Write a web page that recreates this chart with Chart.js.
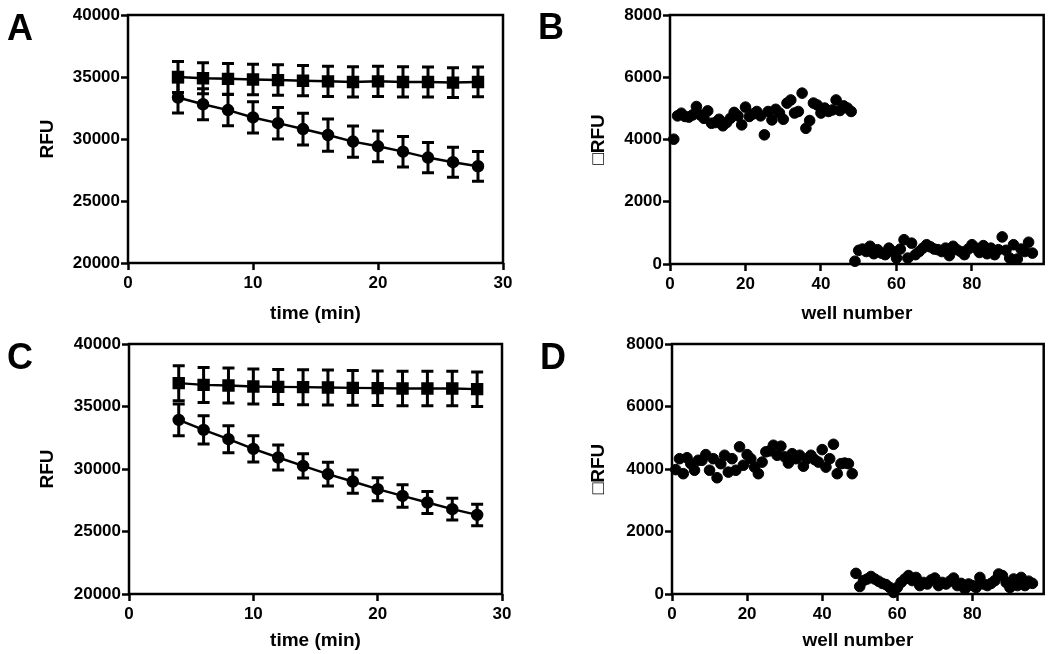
<!DOCTYPE html>
<html>
<head>
<meta charset="utf-8">
<script src="https://cdn.jsdelivr.net/npm/chart.js@4.4.1/dist/chart.umd.min.js"></script>
<style>
  body { margin: 0; background: #fff; }
  #wrap { position: relative; width: 1050px; height: 654px; }
  canvas { position: absolute; }
</style>
</head>
<body>
<div id="wrap">
  <canvas id="chartA" width="525" height="327" style="left:0;top:0"></canvas>
  <canvas id="chartB" width="525" height="327" style="left:525px;top:0"></canvas>
  <canvas id="chartC" width="525" height="327" style="left:0;top:327px"></canvas>
  <canvas id="chartD" width="525" height="327" style="left:525px;top:327px"></canvas>
</div>
<script>
// ---- data ----
var timeMin = [4, 6, 8, 10, 12, 14, 16, 18, 20, 22, 24, 26, 28];
var timeTicks = [0, 10, 20, 30];
var rfuTicks = [20000, 25000, 30000, 35000, 40000];
var wellTicks = [0, 20, 40, 60, 80];
var deltaTicks = [0, 2000, 4000, 6000, 8000];

var aSquare    = [35000, 34900, 34850, 34800, 34750, 34700, 34650, 34600, 34650, 34600, 34600, 34550, 34600];
var aSquareErr = [1250, 1250, 1240, 1230, 1230, 1220, 1220, 1220, 1220, 1220, 1210, 1200, 1200];
var aCircle    = [33350, 32800, 32330, 31740, 31280, 30800, 30320, 29790, 29410, 28980, 28500, 28130, 27800];
var aCircleErr = [1250, 1250, 1260, 1260, 1270, 1280, 1300, 1260, 1240, 1230, 1220, 1210, 1200];

var cSquare    = [36870, 36730, 36680, 36600, 36570, 36550, 36520, 36490, 36470, 36440, 36440, 36440, 36390];
var cSquareErr = [1400, 1400, 1400, 1400, 1400, 1400, 1400, 1390, 1380, 1380, 1380, 1380, 1380];
var cCircle    = [33930, 33130, 32390, 31610, 30920, 30250, 29590, 29000, 28390, 27850, 27320, 26790, 26330];
var cCircleErr = [1270, 1130, 1080, 1050, 1000, 970, 950, 930, 920, 900, 880, 870, 860];

// wells 1-96
var wellNumber = Array.from({length: 96}, function(_, i) { return i + 1; });
var bDelta = [4010, 4760, 4845, 4740, 4720, 4790, 5060, 4790, 4680, 4920,
              4520, 4545, 4650, 4440, 4545, 4680, 4870, 4760, 4470, 5040,
              4740, 4820, 4900, 4760, 4150, 4900, 4630, 4970, 4850, 4650,
              5170, 5270, 4850, 4900, 5490, 4360, 4610, 5170, 5110, 4850,
              5010, 4900, 4950, 5270, 4930, 5080, 5010, 4900,
              90, 440, 480, 400, 570, 330, 460, 350, 300, 510,
              400, 190, 480, 780, 190, 670, 300, 400, 510, 620,
              550, 480, 460, 400, 510, 270, 570, 460, 400, 300,
              480, 620, 510, 370, 590, 330, 510, 300, 460, 870,
              440, 190, 620, 160, 480, 400, 700, 350];
var dDelta = [3980, 4330, 3850, 4360, 4170, 3960, 4280, 4280, 4460, 3960,
              4330, 3720, 4170, 4440, 3900, 4330, 3960, 4710, 4120, 4460,
              4330, 4060, 3850, 4220, 4550, 4580, 4760, 4440, 4730, 4390,
              4190, 4490, 4330, 4440, 4090, 4330, 4440, 4300, 4220, 4620,
              4060, 4330, 4790, 3850, 4170, 4190, 4170, 3850,
              660, 240, 430, 480, 560, 480, 410, 340, 300, 210,
              50, 210, 370, 480, 590, 430, 530, 270, 370, 320,
              450, 510, 270, 370, 320, 410, 510, 270, 340, 160,
              320, 270, 210, 530, 320, 270, 340, 430, 640, 590,
              370, 210, 480, 270, 530, 270, 410, 340];

var FONT = '"Liberation Sans", Arial, "DejaVu Sans", sans-serif';

function pts(xs, ys) {
  return xs.map(function(x, i) { return {x: x, y: ys[i]}; });
}

// error bars, frame and panel letter
var panelPlugin = {
  id: 'panel',
  afterDatasetsDraw: function(chart) {
    var ctx = chart.ctx, xs = chart.scales.x, ys = chart.scales.y;
    chart.data.datasets.forEach(function(ds) {
      if (!ds.err) return;
      ctx.save();
      ctx.strokeStyle = '#000';
      ctx.lineWidth = 3;
      ds.data.forEach(function(p, j) {
        var px = xs.getPixelForValue(p.x);
        var top = ys.getPixelForValue(p.y + ds.err[j]);
        var bot = ys.getPixelForValue(p.y - ds.err[j]);
        ctx.beginPath();
        ctx.moveTo(px, top); ctx.lineTo(px, bot);
        ctx.moveTo(px - 6, top); ctx.lineTo(px + 6, top);
        ctx.moveTo(px - 6, bot); ctx.lineTo(px + 6, bot);
        ctx.stroke();
      });
      ctx.restore();
    });
  },
  afterDraw: function(chart, args, opts) {
    var ctx = chart.ctx, a = chart.chartArea;
    ctx.save();
    ctx.strokeStyle = '#000';
    ctx.lineWidth = 2.5;
    ctx.strokeRect(a.left, a.top, a.right - a.left, a.bottom - a.top);
    ctx.fillStyle = '#000';
    ctx.font = 'bold 36px ' + FONT;
    ctx.textBaseline = 'alphabetic';
    ctx.fillText(opts.letter, opts.lx, opts.ly);
    ctx.restore();
  }
};

function axis(min, max, tickVals, title, titlePad, size) {
  return {
    type: 'linear', min: min, max: max,
    ticks: {
      color: '#000', font: {family: FONT, size: 17, weight: 'bold'},
      padding: size < 100 ? 3 : 1, maxRotation: 0, autoSkip: false,
      callback: function(v) { return String(v); }
    },
    afterBuildTicks: function(s) {
      s.ticks = tickVals.map(function(v) { return {value: v}; });
    },
    grid: {display: true, drawOnChartArea: false, drawTicks: true,
           tickLength: 7, tickWidth: 2.5, tickColor: '#000'},
    border: {display: false},
    title: {display: true, text: title, color: '#000',
            font: {family: FONT, size: 19, weight: 'bold'}, padding: titlePad},
    afterFit: function(s) {
      if (s.isHorizontal()) s.height = size; else s.width = size;
    }
  };
}

function timeChart(id, letter, sq, sqErr, ci, ciErr, lay) {
  new Chart(document.getElementById(id), {
    type: 'scatter',
    data: {
      datasets: [
        {data: pts(timeMin, sq), err: sqErr, showLine: true, borderColor: '#000', borderWidth: 2.5,
         backgroundColor: '#000', pointStyle: 'rect', pointRadius: 7, clip: false},
        {data: pts(timeMin, ci), err: ciErr, showLine: true, borderColor: '#000', borderWidth: 2.5,
         backgroundColor: '#000', pointStyle: 'circle', pointRadius: 5, clip: false}
      ]
    },
    options: {
      responsive: false, animation: false,
      layout: {padding: {left: 0, top: lay.top, right: lay.right, bottom: 0}},
      plugins: {legend: {display: false}, tooltip: {enabled: false},
                panel: {letter: letter, lx: lay.lx, ly: lay.ly}},
      scales: {
        x: axis(0, 30, timeTicks, 'time (min)', {top: 0, bottom: 2}, lay.xh),
        y: axis(20000, 40000, rfuTicks, 'RFU', {top: 36, bottom: 0}, lay.yw)
      }
    },
    plugins: [panelPlugin]
  });
}

function wellChart(id, letter, vals, lay) {
  new Chart(document.getElementById(id), {
    type: 'scatter',
    data: {
      datasets: [
        {data: pts(wellNumber, vals), backgroundColor: '#000', borderColor: '#000',
         pointRadius: 5.3, clip: false}
      ]
    },
    options: {
      responsive: false, animation: false,
      layout: {padding: {left: 0, top: lay.top, right: lay.right, bottom: 0}},
      plugins: {legend: {display: false}, tooltip: {enabled: false},
                panel: {letter: letter, lx: lay.lx, ly: lay.ly}},
      scales: {
        x: axis(0, 99, wellTicks, 'well number', {top: 0, bottom: 2}, lay.xh),
        y: axis(0, 8000, deltaTicks, '\u25A1RFU', {top: 62, bottom: 0}, lay.yw)
      }
    },
    plugins: [panelPlugin]
  });
}

timeChart('chartA', 'A', aSquare, aSquareErr, aCircle, aCircleErr,
          {top: 15, right: 22, xh: 64, yw: 128, lx: 7, ly: 40});
timeChart('chartC', 'C', cSquare, cSquareErr, cCircle, cCircleErr,
          {top: 17, right: 23, xh: 60, yw: 129, lx: 7, ly: 42});
wellChart('chartB', 'B', bDelta, {top: 15, right: 4, xh: 63, yw: 145, lx: 13, ly: 39});
wellChart('chartD', 'D', dDelta, {top: 17, right: 5, xh: 60, yw: 147, lx: 15, ly: 42});
</script>
</body>
</html>
